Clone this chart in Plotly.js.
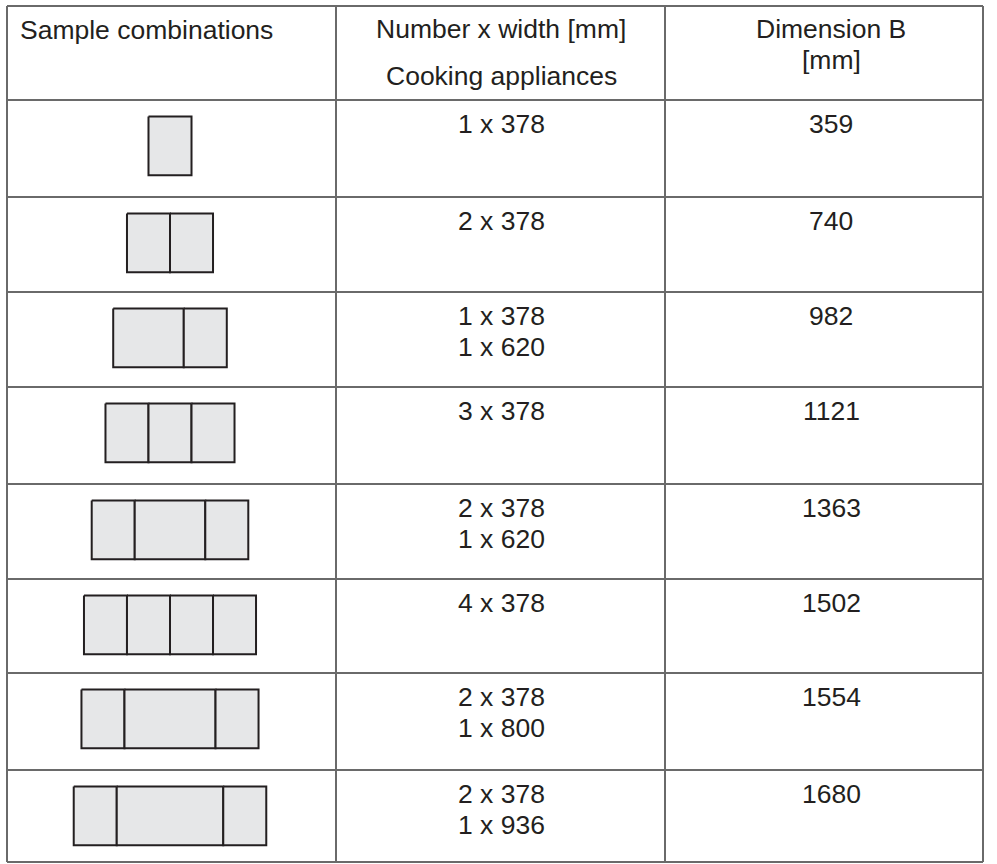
<!DOCTYPE html>
<html>
<head>
<meta charset="utf-8">
<script src="https://cdn.plot.ly/plotly-3.0.1.min.js"></script>
<style>
html,body{margin:0;padding:0;background:#fff;}
#chart{width:997px;height:864px;}
</style>
</head>
<body>
<div id="chart"></div>
<script>
// ---- Data ----
const headerCol1 = ["Sample combinations"];
const headerCol2 = ["Number x width [mm]", "Cooking appliances"];
const headerCol3 = ["Dimension B", "[mm]"];
const combinations = [
  [378],
  [378, 378],
  [620, 378],
  [378, 378, 378],
  [378, 620, 378],
  [378, 378, 378, 378],
  [378, 800, 378],
  [378, 936, 378]
];
const numberWidthLabels = [
  ["1 x 378"],
  ["2 x 378"],
  ["1 x 378", "1 x 620"],
  ["3 x 378"],
  ["2 x 378", "1 x 620"],
  ["4 x 378"],
  ["2 x 378", "1 x 800"],
  ["2 x 378", "1 x 936"]
];
const dimensionB = [359, 740, 982, 1121, 1363, 1502, 1554, 1680];

// ---- Layout geometry (pixel coordinate system of the axes) ----
const W = 997, H = 864;
const colEdges = [7, 336, 665, 983];
const tableTop = 6;
const rowEdges = [100, 197, 292, 387, 484, 579, 673, 770, 862];
const gridColor = "#6a6a6a";
const inkColor = "#231f20";
const fillColor = "#e6e7e8";
const fontFamily = "'Liberation Sans', Arial, Helvetica, sans-serif";
const fontSize = 26.5;
const pxPerMm = 0.1138;
const drawCenterX = 170;
const rectOffset = 16.5;
const rectHeight = 58.7;
const col2Center = 501;
const col3Center = 831;
const lineGap = 31;

const traces = [];
combinations.forEach((widths, i) => {
  const total = widths.reduce((a, b) => a + b, 0);
  let x = drawCenterX - total * pxPerMm / 2;
  const top = rowEdges[i] + rectOffset;
  const bot = top + rectHeight;
  widths.forEach(w => {
    const x2 = x + w * pxPerMm;
    traces.push({
      type: "scatter", mode: "lines",
      x: [x, x2, x2, x, x], y: [top, top, bot, bot, top],
      fill: "toself", fillcolor: fillColor,
      line: {color: inkColor, width: 2},
      hoverinfo: "skip", showlegend: false
    });
    x = x2;
  });
});

const shapes = [];
const allH = [tableTop].concat(rowEdges);
allH.forEach(y => shapes.push({type: "line", xref: "x", yref: "y", x0: colEdges[0], x1: colEdges[3], y0: y, y1: y, line: {color: gridColor, width: 2}}));
colEdges.forEach(x => shapes.push({type: "line", xref: "x", yref: "y", x0: x, x1: x, y0: tableTop, y1: rowEdges[rowEdges.length - 1], line: {color: gridColor, width: 2}}));

const annotations = [];
function addText(text, x, y, anchor) {
  annotations.push({
    xref: "x", yref: "y", x: x, y: y, text: text, showarrow: false,
    xanchor: anchor || "center", yanchor: "middle",
    font: {family: fontFamily, size: fontSize, color: inkColor},
    borderpad: 0
  });
}
// header
addText(headerCol1[0], 19, 30, "left");
addText(headerCol2[0], col2Center, 29);
addText(headerCol2[1], col2Center, 76);
addText(headerCol3[0], col3Center, 29);
addText(headerCol3[1], col3Center, 60);
// rows
for (let i = 0; i < dimensionB.length; i++) {
  const y0 = rowEdges[i] + 24;
  numberWidthLabels[i].forEach((t, k) => addText(t, col2Center, y0 + k * lineGap));
  addText(String(dimensionB[i]), col3Center, y0);
}

const layout = {
  width: W, height: H,
  margin: {l: 0, r: 0, t: 0, b: 0, pad: 0},
  paper_bgcolor: "#ffffff", plot_bgcolor: "#ffffff",
  xaxis: {range: [0, W], visible: false, fixedrange: true},
  yaxis: {range: [H, 0], visible: false, fixedrange: true},
  shapes: shapes,
  annotations: annotations,
  showlegend: false
};
Plotly.newPlot("chart", traces, layout, {displayModeBar: false, staticPlot: true});
</script>
</body>
</html>
